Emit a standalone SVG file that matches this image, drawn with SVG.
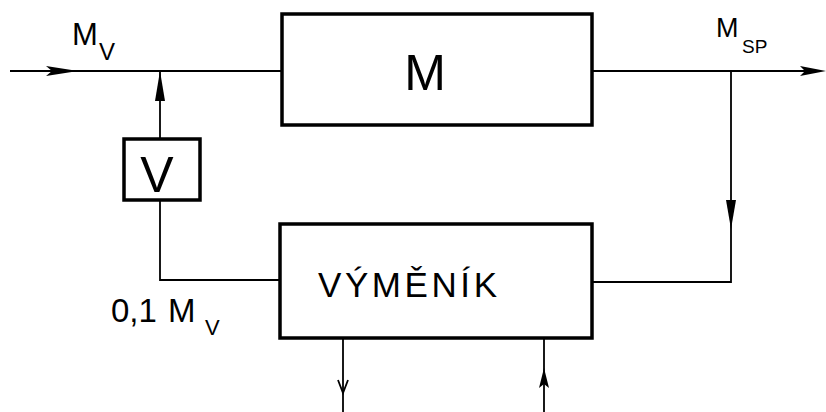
<svg xmlns="http://www.w3.org/2000/svg" width="826" height="412" viewBox="0 0 826 412">
<style>
.box{fill:none;stroke:#000;stroke-width:3.5;stroke-linejoin:miter}
.ln{fill:none;stroke:#000;stroke-width:1.8}
.t{font-family:"Liberation Sans","DejaVu Sans",sans-serif;fill:#000}
.ah{fill:#000;stroke:none}
</style>
<rect width="826" height="412" fill="#fff"/>
<g id="connectors">
<line class="ln" x1="10" y1="71" x2="282" y2="71"/>
<path class="ah" d="M78,71 L46,66 L52,71 L46,76 Z"/>
<line class="ln" x1="592" y1="71" x2="820" y2="71"/>
<path class="ah" d="M826,71 L800,66 L805,71 L800,76 Z"/>
<line class="ln" x1="160" y1="139" x2="160" y2="71"/>
<path class="ah" d="M160,71 L155,101 L165,101 Z"/>
<polyline class="ln" points="160,200 160,280 280,280"/>
<polyline class="ln" points="592,282 731,282 731,71"/>
<path class="ah" d="M731,229 L726,200 L736,200 Z"/>
<line class="ln" x1="343" y1="338" x2="343" y2="412"/>
<polyline class="ln" points="338,380 343,393 348,380"/>
<line class="ln" x1="544" y1="338" x2="544" y2="412"/>
<path class="ah" d="M544,368 L539,388 L544,384 L549,388 Z"/>
</g>
<g id="M">
<rect class="box" x="282" y="14" width="310" height="111"/>
<text class="t" x="425" y="90" font-size="50" text-anchor="middle">M</text>
</g>
<g id="V">
<rect class="box" x="124" y="139" width="76" height="61"/>
<text class="t" x="157" y="192" font-size="50" text-anchor="middle">V</text>
</g>
<g id="vymenik">
<rect class="box" x="280" y="224" width="312" height="114"/>
<text class="t" x="318" y="297" font-size="35" textLength="179" lengthAdjust="spacing">VÝMĚNÍK</text>
</g>
<g id="labels">
<text class="t" x="72" y="45" font-size="31">M</text>
<text class="t" x="99" y="60" font-size="24">V</text>
<text class="t" x="716" y="37" font-size="27">M</text>
<text class="t" x="742" y="53" font-size="19">SP</text>
<text class="t" x="111" y="322" font-size="33">0,1</text>
<text class="t" x="168" y="322" font-size="33">M</text>
<text class="t" x="205" y="335" font-size="22">V</text>
</g>
</svg>
